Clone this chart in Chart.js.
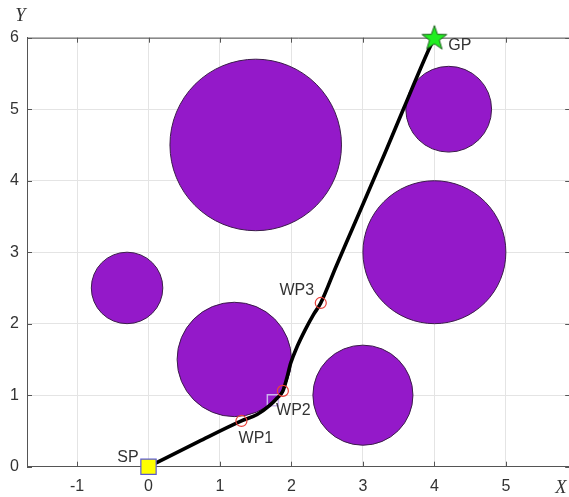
<!DOCTYPE html>
<html>
<head>
<meta charset="utf-8">
<script src="https://cdn.jsdelivr.net/npm/chart.js@4.4.1/dist/chart.umd.min.js"></script>
<style>
  html, body { margin: 0; padding: 0; background: #fff; overflow: hidden; width: 569px; height: 497px; }
  canvas { display: block; }
</style>
</head>
<body>
<canvas id="map" width="600" height="497"></canvas>
<script>
// circular obstacles: centre and radius in map units
const obstacleX = [1.5, 4.2, 4.0, -0.3, 1.2, 3.0];
const obstacleY = [4.5, 5.0, 3.0, 2.5, 1.5, 1.0];
const obstacleR = [1.2, 0.6, 1.0, 0.5, 0.8, 0.7];

// planned path from SP to GP
const pathX = [0, 0.70, 1.30, 1.52, 1.70, 1.80, 1.88, 1.93, 1.99, 2.08, 2.19, 2.31, 2.41, 2.62, 2.84, 3.31, 3.57, 3.92, 4.00];
const pathY = [0, 0.35, 0.64, 0.73, 0.86, 0.96, 1.06, 1.22, 1.45, 1.68, 1.91, 2.13, 2.29, 2.79, 3.30, 4.39, 5.01, 5.83, 6.00];

// start point, goal point and waypoints
const startX = [0],    startY = [0];
const goalX = [4],     goalY = [6];
const wpNames = ['WP1', 'WP2', 'WP3'];
const wpX = [1.30, 1.88, 2.41];
const wpY = [0.64, 1.06, 2.29];
const boxX = [1.74],   boxY = [0.93];

// axis ticks
const xTicks = [-1, 0, 1, 2, 3, 4, 5];
const yTicks = [0, 1, 2, 3, 4, 5, 6];

const axisColor = '#555555';
const textColor = '#333333';

// label placement relative to each marker (pixels)
const labelStyle = [
  { text: 'SP', dx: -20.5, dy: -9 },
  { text: 'GP', dx: 25.5, dy: 7.5 },
  { text: wpNames[0], dx: 14.5, dy: 17.5 },
  { text: wpNames[1], dx: 10.5, dy: 20 },
  { text: wpNames[2], dx: -24, dy: -12.5 }
];
const labelAnchors = [
  [startX[0], startY[0]], [goalX[0], goalY[0]],
  [wpX[0], wpY[0]], [wpX[1], wpY[1]], [wpX[2], wpY[2]]
];

function starImage(size, fill, stroke) {
  const c = document.createElement('canvas');
  c.width = c.height = size;
  const g = c.getContext('2d');
  const cx = size / 2, cy = size / 2 + 0.8, R = size / 2 - 1, r = R * 0.4;
  g.beginPath();
  for (let i = 0; i < 10; i++) {
    const a = -Math.PI / 2 + i * Math.PI / 5;
    const rad = i % 2 ? r : R;
    g.lineTo(cx + rad * Math.cos(a), cy + rad * Math.sin(a));
  }
  g.closePath();
  g.fillStyle = fill; g.fill();
  g.strokeStyle = stroke; g.lineWidth = 1; g.stroke();
  return c;
}

const zip = (xs, ys) => xs.map((x, i) => ({ x, y: ys[i] }));

// box outline with inward ticks, under the plotted marks
const frame = {
  id: 'frame',
  beforeDatasetsDraw(chart) {
    const { ctx, chartArea: a, scales: { x, y } } = chart;
    ctx.save();
    ctx.strokeStyle = axisColor;
    ctx.lineWidth = 1;
    ctx.beginPath();
    ctx.moveTo(a.left, a.top + 0.5); ctx.lineTo(a.right, a.top + 0.5);
    ctx.moveTo(a.right - 0.5, a.top); ctx.lineTo(a.right - 0.5, a.bottom);
    const tl = 5;
    xTicks.forEach(v => {
      const px = Math.round(x.getPixelForValue(v)) + 0.5;
      ctx.moveTo(px, a.bottom); ctx.lineTo(px, a.bottom - tl);
      ctx.moveTo(px, a.top); ctx.lineTo(px, a.top + tl);
    });
    yTicks.forEach(v => {
      const py = Math.round(y.getPixelForValue(v)) + 0.5;
      ctx.moveTo(a.left, py); ctx.lineTo(a.left + tl, py);
      ctx.moveTo(a.right, py); ctx.lineTo(a.right - tl, py);
    });
    ctx.stroke();
    ctx.restore();
  },
  afterDraw(chart) {
    const { ctx, scales: { x, y } } = chart;
    ctx.save();
    // point labels
    ctx.fillStyle = textColor;
    ctx.font = '16px "Liberation Sans", Arial, sans-serif';
    ctx.textAlign = 'center';
    ctx.textBaseline = 'middle';
    labelStyle.forEach((s, i) => {
      const px = x.getPixelForValue(labelAnchors[i][0]) + s.dx;
      const py = y.getPixelForValue(labelAnchors[i][1]) + s.dy;
      ctx.fillText(s.text, px, py);
    });
    // axis names
    ctx.font = 'italic 18.5px "Liberation Serif", "Times New Roman", serif';
    ctx.fillText('Y', 20.5, 16.5);
    ctx.fillText('X', 561, 488.5);
    ctx.restore();
  }
};

new Chart(document.getElementById('map'), {
  type: 'scatter',
  data: {
    datasets: [
      {
        label: 'SP',
        data: zip(startX, startY),
        pointStyle: 'rect',
        pointRadius: 10.8,
        backgroundColor: '#ffff00',
        borderColor: '#5a5ad2',
        borderWidth: 1.2,
        clip: false,
        order: 0
      },
      {
        label: 'GP',
        data: zip(goalX, goalY),
        pointStyle: starImage(28, '#22ee22', '#1d5e1d'),
        clip: false,
        order: 0
      },
      {
        label: 'waypoints',
        data: zip(wpX, wpY),
        pointStyle: 'circle',
        pointRadius: 5.5,
        backgroundColor: 'rgba(0,0,0,0)',
        borderColor: '#e8413b',
        borderWidth: 1.2,
        order: 0
      },
      {
        label: 'path',
        data: zip(pathX, pathY),
        showLine: true,
        cubicInterpolationMode: 'monotone',
        borderColor: '#000000',
        borderWidth: 3.6,
        pointRadius: 0,
        order: 1
      },
      {
        label: 'box',
        data: zip(boxX, boxY),
        pointStyle: 'rect',
        pointRadius: 7.8,
        backgroundColor: 'rgba(0,0,0,0)',
        borderColor: '#cdb6ee',
        borderWidth: 1.5,
        order: 2
      },
      {
        label: 'obstacles',
        data: obstacleX.map((x, i) => ({ x, y: obstacleY[i], r: obstacleR[i] })),
        pointStyle: 'circle',
        pointRadius: c => {
          const s = c.chart.scales.x;
          const unit = Math.abs(s.getPixelForValue(1) - s.getPixelForValue(0));
          return c.raw && c.raw.r ? c.raw.r * unit : 0;
        },
        backgroundColor: '#9419c9',
        borderColor: '#3b1c4a',
        borderWidth: 1,
        order: 3
      }
    ]
  },
  options: {
    responsive: false,
    animation: false,
    events: [],
    layout: { padding: { top: 37.7, right: 29.8, left: 0, bottom: 0 } },
    plugins: { legend: { display: false }, tooltip: { enabled: false } },
    scales: {
      x: {
        type: 'linear',
        min: -1.7,
        max: 5.9,
        afterFit: s => { s.height = 30.3; },
        afterBuildTicks: s => { s.ticks = xTicks.map(v => ({ value: v })); },
        grid: { color: '#e4e4e4', lineWidth: 1, drawTicks: false },
        border: { display: true, color: axisColor, width: 1 },
        ticks: {
          autoSkip: false,
          maxRotation: 0,
          padding: 10,
          color: textColor,
          font: { family: '"Liberation Sans", Arial, sans-serif', size: 16 }
        }
      },
      y: {
        type: 'linear',
        min: 0,
        max: 6,
        afterFit: s => { s.width = 27; },
        afterBuildTicks: s => { s.ticks = yTicks.map(v => ({ value: v })); },
        grid: { color: '#e4e4e4', lineWidth: 1, drawTicks: false },
        border: { display: true, color: axisColor, width: 1 },
        ticks: {
          autoSkip: false,
          padding: 8,
          color: textColor,
          font: { family: '"Liberation Sans", Arial, sans-serif', size: 16 }
        }
      }
    }
  },
  plugins: [frame]
});
</script>
</body>
</html>
